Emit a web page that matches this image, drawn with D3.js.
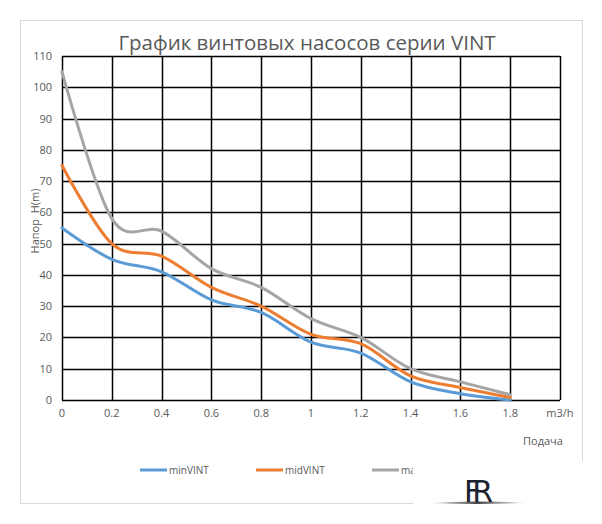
<!DOCTYPE html>
<html>
<head>
<meta charset="utf-8">
<script src="https://cdn.jsdelivr.net/npm/d3@7"></script>
<style>
  body { margin: 0; background: #fff; }
  svg { display: block; font-family: "Open Sans", "Noto Sans", sans-serif; }
</style>
</head>
<body>
<svg></svg>
<script>
// flow, m3/h
const flow = [0, 0.2, 0.4, 0.6, 0.8, 1.0, 1.2, 1.4, 1.6, 1.8];
// head H(m) per pump
const minVINT = [55, 45, 41, 32, 28, 18.5, 15, 5.8, 2, 0];
const midVINT = [75, 50, 46, 36, 30, 21, 18, 7.7, 4, 0.8];
const maxVINT = [105, 58, 54, 42, 36, 26, 20, 10, 5.8, 1.7];
const seriesNames = ["minVINT", "midVINT", "maxVINT"];
const xTicks = [0, 0.2, 0.4, 0.6, 0.8, 1, 1.2, 1.4, 1.6, 1.8, 2];
const yTicks = [0, 10, 20, 30, 40, 50, 60, 70, 80, 90, 100, 110];

const svgWidth = 602, svgHeight = 524;
const colors = ["#5B9BD5", "#ED7D31", "#A5A5A5"];
const textColor = "#595959";

const svg = d3.select("svg")
  .attr("width", svgWidth)
  .attr("height", svgHeight);

// chart frame
svg.append("rect")
  .attr("x", 20.5).attr("y", 20.5)
  .attr("width", 562).attr("height", 483)
  .attr("fill", "#fff")
  .attr("stroke", "#d9d9d9");

const x = d3.scaleLinear().domain([0, 2]).range([62, 560]);
const y = d3.scaleLinear().domain([0, 110]).range([400, 56]);

// title
svg.append("text")
  .attr("x", 307).attr("y", 50)
  .attr("text-anchor", "middle")
  .attr("font-size", 20.5)
  .attr("fill", textColor)
  .text("График винтовых насосов серии VINT");

// grid
const grid = svg.append("g");
grid.selectAll("line.h")
  .data(yTicks)
  .join("line")
  .attr("class", "h")
  .attr("x1", x(0)).attr("x2", x(2))
  .attr("y1", d => Math.round(y(d)) + 0.5).attr("y2", d => Math.round(y(d)) + 0.5)
  .attr("stroke", "#000").attr("stroke-width", 1.5);
grid.selectAll("line.v")
  .data(xTicks)
  .join("line")
  .attr("class", "v")
  .attr("y1", y(0)).attr("y2", y(110))
  .attr("x1", d => Math.round(x(d)) + 0.5).attr("x2", d => Math.round(x(d)) + 0.5)
  .attr("stroke", "#000").attr("stroke-width", 1.5);

// y tick labels
svg.append("g")
  .selectAll("text")
  .data(yTicks)
  .join("text")
  .attr("x", 52)
  .attr("y", d => y(d) + 4)
  .attr("text-anchor", "end")
  .attr("font-size", 11)
  .attr("fill", textColor)
  .text(d => d);

// x tick labels (last one replaced by unit)
svg.append("g")
  .selectAll("text")
  .data(xTicks)
  .join("text")
  .attr("x", d => x(d))
  .attr("y", 417)
  .attr("text-anchor", "middle")
  .attr("font-size", 11)
  .attr("fill", textColor)
  .text(d => d === 2 ? "m3/h" : d);

svg.append("text")
  .attr("x", 543).attr("y", 445)
  .attr("text-anchor", "middle")
  .attr("font-size", 11)
  .attr("fill", textColor)
  .text("Подача");

svg.append("text")
  .attr("transform", "translate(39,221) rotate(-90)")
  .attr("text-anchor", "middle")
  .attr("font-size", 11)
  .attr("fill", textColor)
  .attr("xml:space", "preserve")
  .text("Напор  H(m)");

// curves
const line = d3.line()
  .x((d, i) => x(flow[i]))
  .y(d => y(d))
  .curve(d3.curveCardinal.tension(0));

svg.append("g")
  .selectAll("path")
  .data([minVINT, midVINT, maxVINT])
  .join("path")
  .attr("d", line)
  .attr("fill", "none")
  .attr("stroke", (d, i) => colors[i])
  .attr("stroke-width", 3)
  .attr("stroke-linecap", "round");

// legend
const legend = svg.append("g")
  .selectAll("g")
  .data(seriesNames)
  .join("g")
  .attr("transform", (d, i) => `translate(${140 + i * 116},470)`);
legend.append("line")
  .attr("x1", 0).attr("x2", 27)
  .attr("stroke", (d, i) => colors[i])
  .attr("stroke-width", 3);
legend.append("text")
  .attr("x", 29).attr("y", 3.5)
  .attr("font-size", 10)
  .attr("fill", textColor)
  .text(d => d);

// logo box covering the corner
svg.append("rect")
  .attr("x", 413).attr("y", 461)
  .attr("width", 189).attr("height", 63)
  .attr("fill", "#fff");

const grad = svg.append("defs").append("linearGradient")
  .attr("id", "swoosh");
grad.append("stop").attr("offset", "0%").attr("stop-color", "#fff");
grad.append("stop").attr("offset", "50%").attr("stop-color", "#444");
grad.append("stop").attr("offset", "100%").attr("stop-color", "#fff");

svg.append("path")
  .attr("d", "M427,503 Q478,500 528,503 Q478,505 427,503 Z")
  .attr("fill", "url(#swoosh)");
svg.append("text")
  .attr("x", 464).attr("y", 502)
  .attr("font-family", "DejaVu Sans, sans-serif")
  .attr("font-size", 30)
  .attr("letter-spacing", -9)
  .attr("fill", "#1c2230")
  .text("FR");
</script>
</body>
</html>
